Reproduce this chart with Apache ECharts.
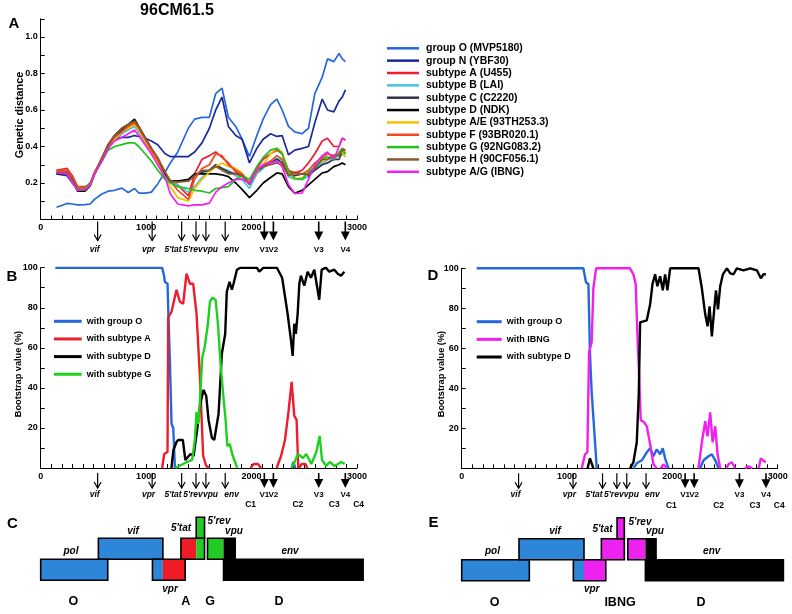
<!DOCTYPE html>
<html><head><meta charset="utf-8">
<script src="https://cdn.jsdelivr.net/npm/echarts@6/dist/echarts.min.js"></script>
<style>html,body{margin:0;padding:0;background:#fff}#c{width:792px;height:614px}</style>
</head><body><div id="c"></div><script>
// ---------------- DATA ----------------
const posA = [150,250,300,350,420,470,510,580,640,700,770,830,890,930,990,1050,1110,1180,1230,
  1300,1400,1460,1530,1600,1660,1720,1780,1850,1910,1980,2050,2110,2180,2240,2290,2350,2410,2480,2540,2600,2670,2720,2780,2830,2860,2890];
const namesA = ['group O (MVP5180)','group N (YBF30)','subtype A (U455)','subtype B (LAI)','subtype C (C2220)','subtype D (NDK)','subtype A/E (93TH253.3)','subtype F (93BR020.1)','subtype G (92NG083.2)','subtype H (90CF056.1)','subtype A/G (IBNG)'];
const distO = [0.067,0.088,0.085,0.08,0.082,0.085,0.11,0.14,0.155,0.16,0.172,0.148,0.17,0.145,0.145,0.15,0.195,0.26,0.31,
  0.37,0.50,0.55,0.56,0.56,0.69,0.72,0.56,0.51,0.44,0.345,0.46,0.55,0.63,0.66,0.60,0.51,0.48,0.47,0.50,0.69,0.78,0.88,0.865,0.91,0.88,0.865];
const distN = [0.25,0.24,0.2,0.17,0.17,0.2,0.25,0.33,0.41,0.44,0.45,0.45,0.46,0.455,0.445,0.43,0.41,0.36,0.345,
  0.345,0.345,0.37,0.42,0.50,0.60,0.67,0.51,0.46,0.44,0.31,0.39,0.44,0.47,0.455,0.46,0.355,0.38,0.39,0.40,0.53,0.66,0.60,0.59,0.65,0.67,0.71];
const distA = [0.27,0.28,0.24,0.18,0.18,0.19,0.25,0.32,0.39,0.44,0.47,0.50,0.53,0.50,0.43,0.37,0.32,0.25,0.21,
  0.19,0.13,0.25,0.33,0.35,0.37,0.34,0.31,0.26,0.24,0.20,0.28,0.33,0.36,0.38,0.36,0.27,0.255,0.27,0.31,0.36,0.43,0.445,0.40,0.40,0.445,0.435];
const distB = [0.25,0.25,0.21,0.17,0.165,0.19,0.25,0.32,0.39,0.44,0.47,0.49,0.51,0.48,0.42,0.36,0.31,0.24,0.20,
  0.19,0.15,0.18,0.23,0.27,0.29,0.28,0.27,0.24,0.22,0.17,0.25,0.28,0.32,0.335,0.325,0.235,0.22,0.22,0.235,0.28,0.31,0.326,0.34,0.35,0.36,0.344];
const distC = [0.26,0.25,0.22,0.165,0.16,0.19,0.25,0.33,0.40,0.45,0.49,0.52,0.54,0.50,0.44,0.38,0.33,0.25,0.21,
  0.21,0.21,0.24,0.26,0.27,0.30,0.28,0.26,0.25,0.24,0.20,0.26,0.29,0.31,0.33,0.31,0.25,0.24,0.25,0.24,0.27,0.30,0.31,0.33,0.33,0.37,0.36];
const distD = [0.25,0.25,0.21,0.155,0.155,0.185,0.25,0.33,0.41,0.46,0.50,0.52,0.55,0.51,0.45,0.39,0.33,0.25,0.21,
  0.21,0.22,0.25,0.25,0.25,0.25,0.245,0.235,0.20,0.165,0.12,0.16,0.20,0.23,0.255,0.25,0.18,0.143,0.16,0.19,0.22,0.255,0.262,0.29,0.30,0.31,0.30];
const distAE = [0.26,0.26,0.22,0.17,0.165,0.19,0.25,0.33,0.40,0.44,0.48,0.50,0.52,0.49,0.43,0.37,0.31,0.23,0.18,
  0.12,0.10,0.17,0.22,0.26,0.29,0.31,0.29,0.28,0.255,0.20,0.26,0.30,0.36,0.39,0.37,0.255,0.22,0.23,0.25,0.29,0.32,0.33,0.345,0.36,0.37,0.344];
const distF = [0.27,0.27,0.23,0.18,0.175,0.2,0.26,0.33,0.40,0.45,0.48,0.51,0.53,0.50,0.44,0.38,0.33,0.26,0.21,
  0.16,0.11,0.22,0.28,0.30,0.36,0.35,0.30,0.27,0.25,0.20,0.27,0.30,0.32,0.35,0.33,0.26,0.25,0.25,0.27,0.31,0.34,0.36,0.35,0.36,0.39,0.38];
const distG = [0.26,0.25,0.21,0.17,0.17,0.2,0.25,0.32,0.38,0.40,0.41,0.42,0.42,0.40,0.36,0.32,0.27,0.22,0.20,
  0.18,0.17,0.16,0.155,0.145,0.17,0.175,0.18,0.22,0.24,0.22,0.29,0.34,0.38,0.39,0.36,0.26,0.225,0.22,0.26,0.29,0.33,0.345,0.325,0.37,0.39,0.36];
const distH = [0.26,0.26,0.22,0.165,0.16,0.19,0.25,0.34,0.41,0.46,0.50,0.52,0.54,0.51,0.45,0.39,0.34,0.26,0.21,
  0.205,0.21,0.24,0.27,0.27,0.29,0.27,0.25,0.25,0.24,0.19,0.27,0.29,0.30,0.31,0.30,0.24,0.26,0.25,0.25,0.28,0.33,0.33,0.35,0.35,0.38,0.38];
const distAG = [0.255,0.25,0.2,0.16,0.165,0.19,0.25,0.32,0.39,0.43,0.45,0.47,0.49,0.46,0.41,0.36,0.30,0.23,0.14,
  0.085,0.075,0.08,0.08,0.09,0.15,0.18,0.20,0.22,0.22,0.20,0.27,0.30,0.31,0.32,0.29,0.19,0.143,0.145,0.22,0.30,0.35,0.37,0.33,0.40,0.445,0.435];

// bootscan panel B (null = gap)
const namesB = ['with group O','with subtype A','with subtype D','with subtype G'];
const bootB_O = [[139,100],[1152,100],[1170,96],[1177,93],[1203,92],[1212,75],[1225,54],[1241,22],[1257,20],[1273,0],null,[2380,0],[2396,3],[2415,0]];
const bootB_A = [[1152,0],[1171,7],[1203,8],[1209,75],[1241,78],[1288,89],[1320,83],[1351,82],[1383,97],[1415,92],[1446,92],[1478,77],[1510,46],[1541,6],[1570,1],[1600,0],null,
  [1990,0],[2020,2],[2060,2],[2090,0],null,[2238,0],[2280,6],[2317,14],[2350,28],[2380,43],[2395,33],[2405,26],[2427,24],[2443,0],null,[2450,0],[2475,2],[2510,2],[2530,0]];
const bootB_D = [[1240,0],[1259,9],[1288,13],[1307,14],[1348,14],[1372,4],[1420,7],[1450,6],[1484,19],[1513,32],[1545,39],[1570,36],[1592,24],[1624,15],[1646,14],[1687,27],[1718,57],[1750,67],[1765,88],[1791,93],[1813,89],[1829,92],[1861,99],[1893,100],[2050,100],[2073,98],[2113,100],[2240,100],[2290,95],[2342,77],[2373,64],[2390,56],[2405,72],[2420,67],[2437,77],[2453,92],[2468,96],[2500,91],[2532,98],[2563,95],[2595,99],[2620,91],[2642,84],[2665,99],[2706,100],[2737,98],[2785,99],[2817,97],[2848,96],[2880,98]];
const bootB_G = [[1276,0],[1388,3],[1436,4],[1462,14],[1478,28],[1490,22],[1500,24],[1532,55],[1554,60],[1586,72],[1605,83],[1627,85],[1659,84],[1681,72],[1706,52],[1732,36],[1754,24],[1770,11],[1794,12],[1816,7],[1864,0],null,
  [2380,0],[2408,3],[2440,7],[2487,5],[2519,7],[2567,2],[2614,8],[2646,16],[2668,4],[2709,1],[2741,3],[2788,1],[2851,3],[2883,2]];

// bootscan panel D
const namesD = ['with group O','with IBNG','with subtype D'];
const bootD_O = [[142,100],[1155,100],[1180,93],[1203,92],[1218,57],[1234,38],[1250,38],[1266,13],[1282,0],null,
  [1630,0],[1662,2.5],[1710,4],[1757,8],[1789,10],[1820,6],[1852,9.5],[1884,7],[1909,10],[1931,5],[1963,0],null,[2264,0],[2296,4],[2343,6],[2375,7],[2407,4],[2438,0]];
const bootD_I = [[1140,0],[1171,7],[1193,8],[1209,58],[1234,63],[1250,90],[1276,100],[1598,100],[1630,97],[1652,92],[1668,67],[1684,47],[1700,24],[1732,23],[1757,21],[1789,12],[1820,2],[1852,0],null,
  [1890,0],[1915,2],[1947,0],null,[2248,0],[2280,13],[2312,23.5],[2334,16],[2359,28],[2382,13],[2407,21],[2429,7],[2454,0],null,[2510,0],[2533,2],[2565,3],[2596,0],null,[2690,0],[2723,1],[2760,0],null,[2820,0],[2840,5],[2872,3.5],[2888,3]];
const bootD_D = [[1195,0],[1218,5],[1234,2.5],[1250,0],null,[1598,0],[1630,3],[1662,13],[1681,37],[1694,73],[1710,72],[1757,74],[1789,82],[1811,92],[1836,97],[1858,91],[1884,96],[1909,89],[1931,97],[1953,89],[1979,100],[2248,100],[2280,90],[2312,77],[2334,71],[2353,81],[2375,66],[2398,80],[2414,89],[2433,79.5],[2454,91],[2480,97],[2518,100],[2550,97.5],[2581,97],[2612,100],[2675,99],[2739,100],[2802,99],[2840,95],[2866,97],[2888,97]];

// genome landmarks under the x axes
const arrowPos = [540,1057,1337,1473,1567,1750,2121,2207,2637,2889];
const arrowNames = ['vif','vpr',"5'tat","5'rev",'vpu','env','V1','V2','V3','V4'];
const cPos = [1991,2439,2784,3015];
const cNames = ['C1','C2','C3','C4'];

// gene maps: [start, end, row, colourKey]
const segC = [[0,636,0,'O'],[547,1159,1,'O'],[1060,1159,0,'O'],[1159,1370,0,'A'],[1330,1475,1,'A'],[1475,1554,1,'G'],[1475,1554,2,'G'],[1582,1734,1,'G'],[1734,1845,1,'D'],[1734,3058,0,'D']];
const genesC = [[0,636,0],[547,1159,1],[1060,1370,0],[1330,1554,1],[1475,1554,2],[1582,1845,1],[1734,3058,0]];
const segE = [[0,642,0,'O'],[544,1161,1,'O'],[1060,1161,0,'O'],[1161,1368,0,'I'],[1326,1544,1,'I'],[1475,1544,2,'I'],[1577,1744,1,'I'],[1744,1845,1,'D'],[1744,3054,0,'D']];
const genesE = [[0,642,0],[544,1161,1],[1060,1368,0],[1326,1544,1],[1475,1544,2],[1577,1845,1],[1744,3054,0]];

// ---------------- STYLE ----------------
const FF = '"Liberation Sans", Arial, Helvetica, sans-serif';
const colA = ['#2468dc','#1a2a9c','#ee1c2e','#44c4e4','#33334d','#000000','#f2c200','#f04a1e','#1fc21f','#8a5a2c','#f020ee'];
const geneCol = {O:'#2e86d8', A:'#ee1c24', G:'#22cc22', D:'#000000', I:'#ee22ee'};
const lblAlign = ['center','right','right','center','left','left','center','center','center','center'];
const lblDx = [-3,3,0,-3,-3,-1,0,0,0,0];

function font(size, italic){ return (italic?'italic ':'') + 'bold ' + size + 'px ' + FF; }
function toLine(arr){ return arr.map(p => p === null ? ['-','-'] : p); }

function arrowRenderer(cfg){
  return function(params, api){
    const i = params.dataIndex;
    const p = api.coord([api.value(0), 0]);
    const x = p[0], y = p[1];
    const thick = arrowNames[i].charAt(0) === 'V';
    const top = y + cfg.start, tip = y + cfg.tip;
    const ch = [];
    if (thick) {
      ch.push({type:'line', shape:{x1:x,y1:top,x2:x,y2:tip-8}, style:{stroke:'#000', lineWidth:1.6}});
      ch.push({type:'polygon', shape:{points:[[x-4.5,tip-9],[x+4.5,tip-9],[x,tip]]}, style:{fill:'#000'}});
    } else {
      ch.push({type:'line', shape:{x1:x,y1:top,x2:x,y2:tip}, style:{stroke:'#000', lineWidth:1.2}});
      ch.push({type:'polyline', shape:{points:[[x-3.5,tip-6],[x,tip],[x+3.5,tip-6]]}, style:{stroke:'#000', lineWidth:1.2, fill:null}});
    }
    ch.push({type:'text', style:{text:arrowNames[i], x:x+lblDx[i], y:y+cfg.label, font:font(thick ? 8 : 8.5, !thick), fill:'#000', align:lblAlign[i], verticalAlign:'middle'}});
    return {type:'group', children:ch};
  };
}
function cRenderer(cfg){
  return function(params, api){
    const p = api.coord([api.value(0), 0]);
    return {type:'text', style:{text:cNames[params.dataIndex], x:p[0], y:p[1]+cfg.clabel, font:font(8.5), fill:'#000', align:'center', verticalAlign:'middle'}};
  };
}
function segRenderer(segs){
  return function(params, api){
    const s = segs[params.dataIndex];
    const p0 = api.coord([s[0], s[2]]), p1 = api.coord([s[1], s[2]+1]);
    return {type:'rect', shape:{x:p0[0], y:p1[1], width:p1[0]-p0[0], height:p0[1]-p1[1]}, style:{fill:geneCol[s[3]]}};
  };
}
function outlineRenderer(genes){
  return function(params, api){
    const s = genes[params.dataIndex];
    const p0 = api.coord([s[0], s[2]]), p1 = api.coord([s[1], s[2]+1]);
    return {type:'rect', shape:{x:p0[0], y:p1[1], width:p1[0]-p0[0], height:p0[1]-p1[1]}, style:{fill:null, stroke:'#000', lineWidth:1.6}};
  };
}

function xAxisCfg(gi){
  return {type:'value', gridIndex:gi, min:0, max:3000, interval:100,
    axisLine:{show:true, lineStyle:{color:'#000', width:1}},
    axisTick:{show:true, inside:true, length:4, lineStyle:{color:'#000', width:1}},
    axisLabel:{margin:4, color:'#000', fontSize:9, fontWeight:'bold', fontFamily:FF,
      formatter: v => (v % 1000 === 0 ? String(v) : '')},
    splitLine:{show:false}};
}
function yAxisCfg(gi, max, step, labelStep, digits){
  return {type:'value', gridIndex:gi, min:0, max:max, interval:step,
    axisLine:{show:true, lineStyle:{color:'#000', width:1}},
    axisTick:{show:true, inside:true, length:4, lineStyle:{color:'#000', width:1}},
    axisLabel:{margin:3, color:'#000', fontSize:9, fontWeight:'bold', fontFamily:FF,
      formatter: v => { const k = Math.round(v/step); const r = Math.round(labelStep/step);
        return (k > 0 && k % r === 0) ? (k*step).toFixed(digits) : ''; }},
    splitLine:{show:false}};
}
function hiddenAxis(gi, max){ return {type:'value', gridIndex:gi, min:0, max:max, show:false}; }

const series = [];
const distArrays = [distO,distN,distA,distB,distC,distD,distAE,distF,distG,distH,distAG];
distArrays.forEach((arr, k) => {
  series.push({type:'line', name:namesA[k], xAxisIndex:0, yAxisIndex:0, symbol:'none',
    data: posA.map((x,i) => [x, arr[i]]), lineStyle:{color:colA[k], width:1.7}, itemStyle:{color:colA[k]}, z:2+k, silent:true});
});
const bCols = ['#2468dc','#ee1c2e','#000000','#1fd01f'];
[bootB_O, bootB_A, bootB_D, bootB_G].forEach((arr,k) => {
  series.push({type:'line', name:namesB[k], xAxisIndex:1, yAxisIndex:1, symbol:'none', connectNulls:false,
    data: toLine(arr), lineStyle:{color:bCols[k], width:2.4}, itemStyle:{color:bCols[k]}, z:3, silent:true});
});
const dCols = ['#2468dc','#f020ee','#000000'];
[bootD_O, bootD_I, bootD_D].forEach((arr,k) => {
  series.push({type:'line', name:namesD[k], xAxisIndex:2, yAxisIndex:2, symbol:'none', connectNulls:false,
    data: toLine(arr), lineStyle:{color:dCols[k], width:2.4}, itemStyle:{color:dCols[k]}, z:3, silent:true});
});
const cfgA = {start:2, tip:21, label:30, clabel:0};
const cfgB = {start:5, tip:20, label:26.5, clabel:37};
series.push({type:'custom', xAxisIndex:0, yAxisIndex:0, data:arrowPos.map(v=>[v,0]), renderItem:arrowRenderer(cfgA), clip:false, silent:true, z:10});
series.push({type:'custom', xAxisIndex:1, yAxisIndex:1, data:arrowPos.map(v=>[v,0]), renderItem:arrowRenderer(cfgB), clip:false, silent:true, z:10});
series.push({type:'custom', xAxisIndex:2, yAxisIndex:2, data:arrowPos.map(v=>[v,0]), renderItem:arrowRenderer(cfgB), clip:false, silent:true, z:10});
series.push({type:'custom', xAxisIndex:1, yAxisIndex:1, data:cPos.map(v=>[v,0]), renderItem:cRenderer(cfgB), clip:false, silent:true, z:10});
series.push({type:'custom', xAxisIndex:2, yAxisIndex:2, data:cPos.map(v=>[v,0]), renderItem:cRenderer(cfgB), clip:false, silent:true, z:10});
series.push({type:'custom', xAxisIndex:3, yAxisIndex:3, data:segC.map(s=>[s[0],s[1],s[2]]), encode:{x:[0,1], y:2}, renderItem:segRenderer(segC), clip:false, silent:true, z:5});
series.push({type:'custom', xAxisIndex:3, yAxisIndex:3, data:genesC, encode:{x:[0,1], y:2}, renderItem:outlineRenderer(genesC), clip:false, silent:true, z:6});
series.push({type:'custom', xAxisIndex:4, yAxisIndex:4, data:segE.map(s=>[s[0],s[1],s[2]]), encode:{x:[0,1], y:2}, renderItem:segRenderer(segE), clip:false, silent:true, z:5});
series.push({type:'custom', xAxisIndex:4, yAxisIndex:4, data:genesE, encode:{x:[0,1], y:2}, renderItem:outlineRenderer(genesE), clip:false, silent:true, z:6});

function T(text, x, y, size, italic, extra){
  return Object.assign({type:'text', x:x, y:y, z:100, silent:true,
    style:{text:text, font:font(size, italic), fill:'#000', align:'center', verticalAlign:'middle'}}, extra||{});
}
const graphics = [
  T('96CM61.5', 177, 11, 16),
  T('A', 14, 24, 15), T('B', 12, 277, 15), T('C', 12.5, 524, 15), T('D', 433, 276, 15), T('E', 433.5, 523, 15),
  T('Genetic distance', 20, 115, 10.8, false, {rotation:Math.PI/2}),
  T('Bootstrap value (%)', 18.5, 374, 9.2, false, {rotation:Math.PI/2}),
  T('Bootstrap value (%)', 441, 374, 9.2, false, {rotation:Math.PI/2}),
  // gene map C labels
  T('pol', 71, 551.5, 10, true), T('vif', 133, 531.5, 10, true), T("5'tat", 181, 528.3, 10, true),
  T("5'rev", 219, 521, 10, true), T('vpu', 234, 531.5, 10, true), T('env', 290, 551.5, 10, true), T('vpr', 170, 589.5, 10, true),
  T('O', 73.3, 602, 12.5), T('A', 185.7, 602, 12.5), T('G', 210, 602, 12.5), T('D', 279, 602, 12.5),
  // gene map E labels
  T('pol', 492.5, 551.5, 10, true), T('vif', 555, 531.5, 10, true), T("5'tat", 602.5, 529, 10, true),
  T("5'rev", 640, 522, 10, true), T('vpu', 655, 531.5, 10, true), T('env', 711.7, 551.5, 10, true), T('vpr', 591.7, 589.5, 10, true),
  T('O', 494.7, 603, 12.5), T('IBNG', 620, 603, 12.5), T('D', 701, 603, 12.5)
];

const legendText = (size) => ({fontSize:size, fontWeight:'bold', fontFamily:FF, color:'#000', lineHeight:12});
const option = {
  backgroundColor:'#ffffff',
  animation:false,
  grid:[
    {left:40.7, top:18.75, width:316.3, height:200.75},
    {left:40.7, top:267.7, width:316.3, height:200.3},
    {left:461.7, top:268.3, width:316, height:200},
    {left:40.7, top:517.3, width:316.3, height:63},
    {left:461.7, top:517.7, width:316, height:63}
  ],
  xAxis:[xAxisCfg(0), xAxisCfg(1), xAxisCfg(2), hiddenAxis(3,3000), hiddenAxis(4,3000)],
  yAxis:[yAxisCfg(0,1.1,0.1,0.2,1), yAxisCfg(1,100,10,20,0), yAxisCfg(2,100,10,20,0), hiddenAxis(3,3), hiddenAxis(4,3)],
  legend:[
    {data:namesA, orient:'vertical', left:387, top:42.3, padding:0, itemGap:0.35, itemWidth:32, itemHeight:2.5, icon:'rect', selectedMode:false, textStyle:Object.assign(legendText(10.5), {padding:[0,0,0,2]})},
    {data:namesB, orient:'vertical', left:54, top:315.3, padding:0, itemGap:5.65, itemWidth:27.7, itemHeight:3, icon:'rect', selectedMode:false, textStyle:legendText(9)},
    {data:namesD, orient:'vertical', left:476.7, top:315.7, padding:0, itemGap:5.65, itemWidth:25, itemHeight:3, icon:'rect', selectedMode:false, textStyle:legendText(9)}
  ],
  graphic:graphics,
  series:series
};
const chart = echarts.init(document.getElementById('c'), null, {renderer:'canvas'});
chart.setOption(option);
</script></body></html>
